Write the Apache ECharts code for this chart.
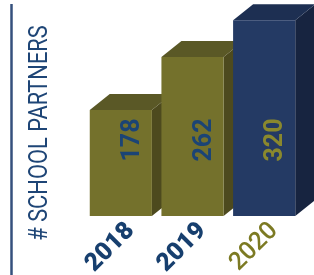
<!DOCTYPE html>
<html>
<head>
<meta charset="utf-8">
<script src="https://cdn.jsdelivr.net/npm/echarts@6/dist/echarts.min.js"></script>
<style>
  html, body { margin: 0; padding: 0; background: #fff; }
  #chart { width: 314px; height: 275px; }
</style>
</head>
<body>
<div id="chart"></div>
<script>
// data
var years = ['2018', '2019', '2020']
var partners = [178, 262, 320]
var axisTitle = '# SCHOOL PARTNERS'

// scale
var yMin = 10
var yMax = 330

// styles per bar
var frontColors = ['#74712c', '#74712c', '#243a64']
var topColors = ['#5a5826', '#5a5826', '#1d2f52']
var sideColors = ['#4d4a1e', '#4d4a1e', '#172440']
var valueColors = ['#1b4475', '#1b4475', '#8a882d']
var depthX = 20
var depthY = 16

var chart = echarts.init(document.getElementById('chart'))

// 3d bar: front face + top face + side face
function renderBar (params, api) {
  var idx = api.value(0)
  var top = api.coord([idx, api.value(1)])
  var base = api.coord([idx, yMin])
  var band = api.size([1, 0])[0]
  var w = band * 0.867
  var x0 = top[0] - (w + depthX) / 2
  var x1 = x0 + w
  var yT = top[1]
  var yB = base[1]
  return {
    type: 'group',
    children: [
      {
        type: 'polygon',
        shape: { points: [[x1, yT], [x1 + depthX, yT - depthY], [x1 + depthX, yB - depthY], [x1, yB]] },
        style: { fill: sideColors[idx] }
      },
      {
        type: 'polygon',
        shape: { points: [[x0, yT], [x0 + depthX, yT - depthY], [x1 + depthX, yT - depthY], [x1, yT]] },
        style: { fill: topColors[idx] }
      },
      {
        type: 'rect',
        shape: { x: x0, y: yT, width: w, height: yB - yT },
        style: { fill: frontColors[idx] }
      },
      {
        type: 'text',
        x: top[0] + 2,
        y: yB - 76,
        rotation: Math.PI / 2,
        style: {
          text: String(api.value(1)),
          fill: valueColors[idx],
          font: 'bold 25px Roboto, sans-serif',
          align: 'center',
          verticalAlign: 'middle'
        }
      }
    ]
  }
}

chart.setOption({
  animation: false,
  grid: {
    left: 95,
    right: 4,
    top: 14,
    bottom: 59,
    containLabel: false,
    outerBoundsMode: 'none'
  },
  xAxis: {
    type: 'category',
    data: years.map(function (y, i) {
      return i === 2
        ? { value: y, textStyle: { color: '#7c7a23', fontWeight: 500 } }
        : { value: y, textStyle: { color: '#173f6e', fontWeight: 900 } }
    }),
    axisLine: { show: false },
    axisTick: { show: false },
    axisLabel: {
      rotate: 45,
      margin: 11,
      fontSize: 25,
      fontFamily: 'Roboto'
    }
  },
  yAxis: {
    type: 'value',
    min: yMin,
    max: yMax,
    show: false
  },
  // 左侧竖线和标题
  graphic: [
    {
      type: 'line',
      shape: { x1: 11.5, y1: 4, x2: 11.5, y2: 275 },
      style: { stroke: '#35507d', lineWidth: 2.5 }
    },
    {
      type: 'text',
      x: 40,
      y: 133,
      rotation: Math.PI / 2,
      scaleX: 0.84,
      style: {
        text: axisTitle,
        fill: '#1e4576',
        font: '26px Roboto, sans-serif',
        align: 'center',
        verticalAlign: 'middle'
      }
    }
  ],
  series: [
    {
      type: 'custom',
      renderItem: renderBar,
      encode: { x: 0, y: 1 },
      data: years.map(function (y, i) { return [i, partners[i]] })
    }
  ]
})
</script>
</body>
</html>
